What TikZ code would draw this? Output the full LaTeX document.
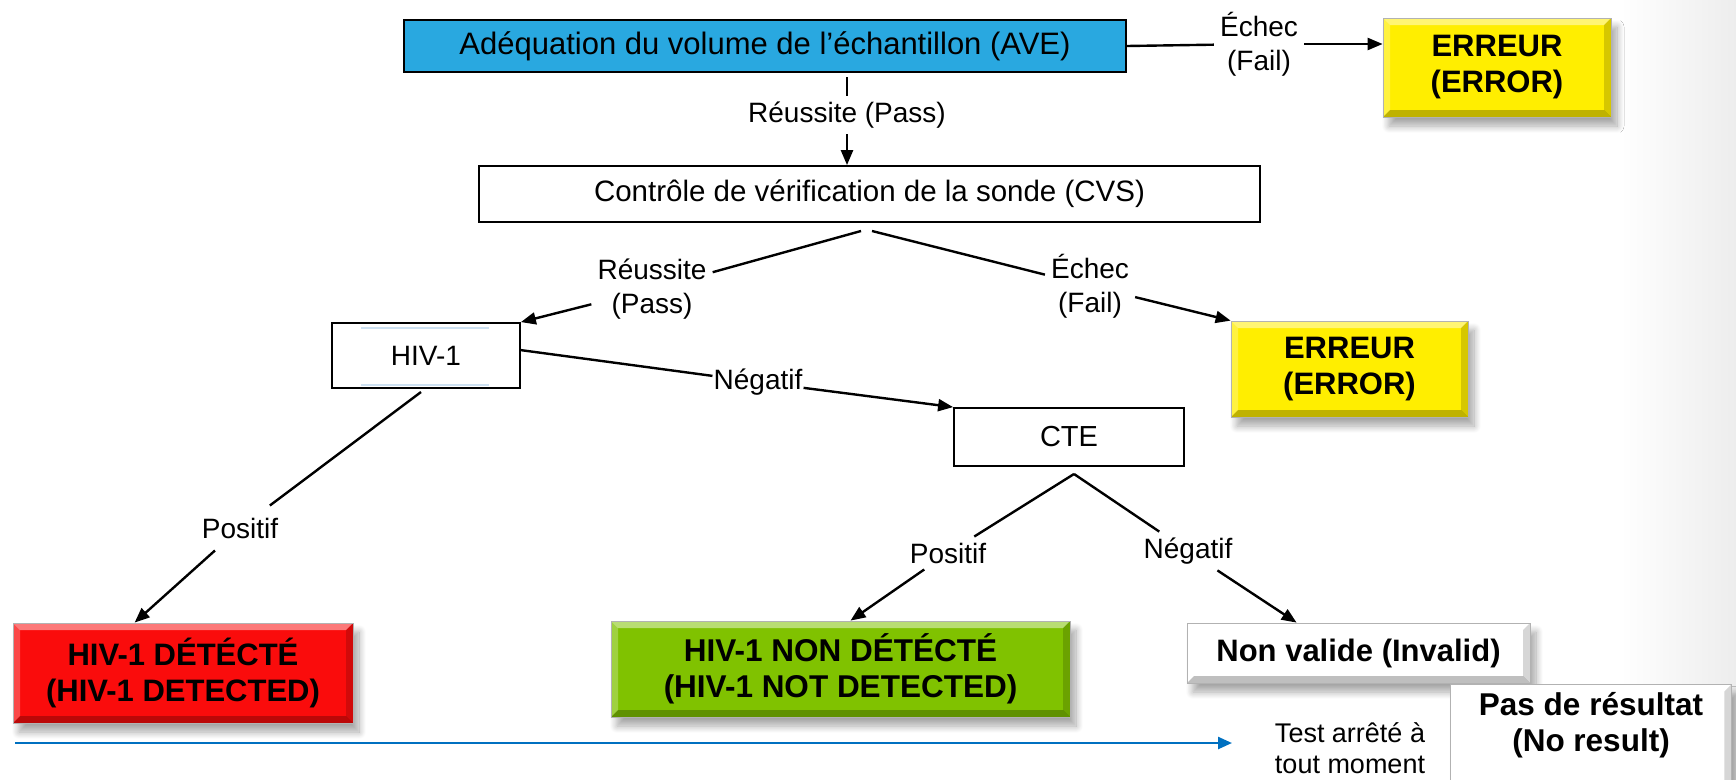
\documentclass[tikz,border=0pt]{standalone}
\usepackage{fontspec}
\setmainfont{Liberation Sans}
\usetikzlibrary{arrows.meta,shadows.blur,calc}
\definecolor{avecyan}{RGB}{41,168,224}
\definecolor{erryel}{RGB}{255,238,0}
\definecolor{detred}{RGB}{250,12,12}
\definecolor{ndgreen}{RGB}{128,194,0}
\definecolor{lineblue}{RGB}{0,112,192}
\definecolor{paleblue}{RGB}{205,225,242}
\begin{document}
\begin{tikzpicture}[x=1pt,y=-1pt,
  every node/.style={font=\fontsize{28}{34}\selectfont, align=center, inner sep=0pt},
  plainbox/.style={draw=black, line width=1.8pt, fill=white},
  bevel/.style={path picture={
    \fill[white,opacity=.45] (path picture bounding box.north west) -- (path picture bounding box.north east) -- ([shift={(-7pt,-7pt)}]path picture bounding box.north east) -- ([shift={(7pt,-7pt)}]path picture bounding box.north west) -- cycle;
    \fill[white,opacity=.25] (path picture bounding box.north west) -- ([shift={(7pt,-7pt)}]path picture bounding box.north west) -- ([shift={(7pt,7pt)}]path picture bounding box.south west) -- (path picture bounding box.south west) -- cycle;
    \fill[black,opacity=.25] (path picture bounding box.south west) -- ([shift={(7pt,7pt)}]path picture bounding box.south west) -- ([shift={(-7pt,7pt)}]path picture bounding box.south east) -- (path picture bounding box.south east) -- cycle;
    \fill[black,opacity=.16] (path picture bounding box.north east) -- (path picture bounding box.south east) -- ([shift={(-7pt,7pt)}]path picture bounding box.south east) -- ([shift={(-7pt,-7pt)}]path picture bounding box.north east) -- cycle;
  }},
  bevelbox/.style={draw=black!30, line width=0.8pt, bevel,
    blur shadow={shadow xshift=6pt, shadow yshift=-9pt, shadow blur steps=12, shadow opacity=35, shadow blur radius=7pt},
    font=\bfseries\fontsize{31}{36}\selectfont},
  lbl/.style={inner sep=6pt},
  conn/.style={line width=2.4pt, draw=black},
  arr/.style={conn, -{Triangle[length=15pt,width=12pt]}},
]
\useasboundingbox (0,0) rectangle (1736,779);
\shade[left color=white, right color=black!7] (1620,0) rectangle (1736,779);

% boxes
\node[plainbox, fill=avecyan, minimum width=722pt, minimum height=52pt, font=\fontsize{31}{36}\selectfont] (ave) at (765,46) {Adéquation du volume de l’échantillon (AVE)};
\node[bevelbox, fill=erryel, minimum width=228pt, minimum height=99pt] (err1) at (1497,67.5) {ERREUR\\(ERROR)};
\node[plainbox, minimum width=781pt, minimum height=56pt, font=\fontsize{29.5}{34}\selectfont] (cvs) at (869.5,194) {Contrôle de vérification de la sonde (CVS)};
\node[plainbox, minimum width=188pt, minimum height=65pt] (hiv) at (426,355.5) {HIV-1};
\draw[paleblue, line width=2pt] (361,327.5) -- (489,327.5) (361,385) -- (489,385);
\node[bevelbox, fill=erryel, minimum width=237pt, minimum height=96pt] (err2) at (1349.5,369) {ERREUR\\(ERROR)};
\node[plainbox, minimum width=230pt, minimum height=58pt, font=\fontsize{29}{34}\selectfont] (cte) at (1069,437) {CTE};
\node[bevelbox, fill=detred, minimum width=340pt, minimum height=100pt] (red) at (183,673) {HIV-1 DÉTÉCTÉ\\(HIV-1 DETECTED)};
\node[bevelbox, fill=ndgreen, minimum width=459pt, minimum height=96pt, font=\bfseries\fontsize{31.5}{36}\selectfont] (green) at (840.5,669) {HIV-1 NON DÉTÉCTÉ\\(HIV-1 NOT DETECTED)};
\node[bevelbox, fill=white, minimum width=343pt, minimum height=60pt] (inv) at (1358.5,653) {Non valide (Invalid)};
\node[bevelbox, fill=white, minimum width=281pt, minimum height=116pt, anchor=north west] (pas) at (1450,684) {};
\node[font=\bfseries\fontsize{31.5}{36}\selectfont] (pastxt) at (1591,725) {Pas de résultat\\(No result)};
\node[font=\fontsize{27}{31}\selectfont] (test) at (1350,748) {Test arrêté à\\tout moment};

% labels
\node[lbl] (l1) at (1259,44) {Échec\\(Fail)};
\node[lbl] (l2) at (847,115) {Réussite (Pass)};
\node[lbl] (l3) at (652,289) {Réussite\\(Pass)};
\node[lbl] (l4) at (1090,286) {Échec\\(Fail)};
\node[inner sep=1pt] (l5) at (758,382) {Négatif};
\node[lbl] (l6) at (948,553) {Positif};
\node[lbl] (l7) at (1188,551) {Négatif};
\node[lbl, inner ysep=12pt] (l8) at (240,528) {Positif};

% connector end points
\coordinate (aveB) at (847,77);
\coordinate (cvsL) at (861,231);
\coordinate (cvsR) at (872,231);
\coordinate (hivE) at (520,350);
\coordinate (hivB) at (421,392);
\coordinate (cteB) at (1074,474);
\coordinate (bstart) at (15,743);
\coordinate (bend) at (1232,743);

% connectors
\draw[conn] (ave.east) -- (l1);
\draw[arr] (l1) -- (l1 -| err1.west);
\draw[conn] (aveB) -- (l2);
\draw[arr] (l2) -- (l2 |- cvs.north);
\draw[conn] (cvsL) -- (l3);
\draw[arr] (l3) -- (hiv.north east);
\draw[conn] (cvsR) -- (l4);
\draw[arr] (l4) -- (err2.north west);
\draw[conn] (hivE) -- (l5);
\draw[arr] (l5) -- (cte.north west);
\draw[conn] (hivB) -- (l8);
\draw[arr] (l8) -- ([xshift=122pt]red.north west);
\draw[conn] (cteB) -- (l6);
\draw[arr] (l6) -- ([xshift=10pt]green.north);
\draw[conn] (cteB) -- (l7);
\draw[arr] (l7) -- ([xshift=110pt]inv.north west);
\draw[lineblue, line width=2.4pt, -{Triangle[length=14pt,width=12pt]}] (bstart) -- (bend);
\end{tikzpicture}
\end{document}
